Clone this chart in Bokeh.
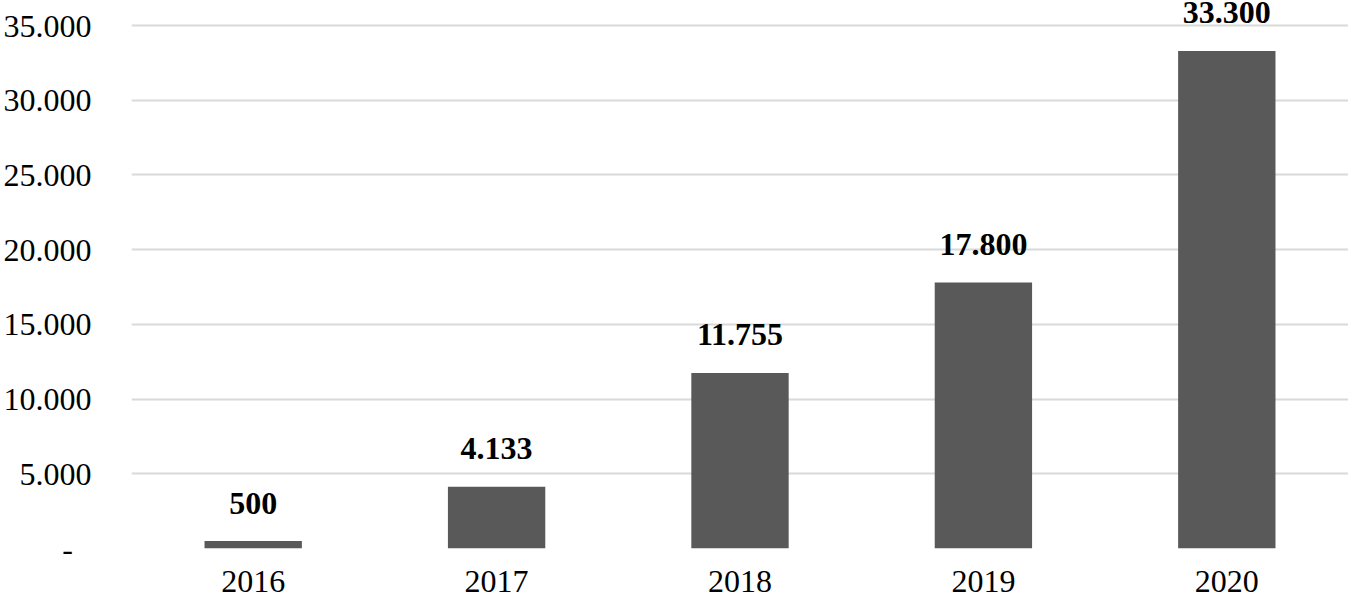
from bokeh.plotting import figure
from bokeh.models import ColumnDataSource, FactorRange, Range1d, FixedTicker
from bokeh.core.properties import value
from bokeh.embed import file_html
from bokeh.resources import INLINE

# data
years = ["2016", "2017", "2018", "2019", "2020"]
counts = [500, 4133, 11755, 17800, 33300]
y_ticks = [0, 5000, 10000, 15000, 20000, 25000, 30000, 35000]

FONT = "Liberation Serif"
BAR_COLOR = "#595959"
GRID_COLOR = "#d9d9d9"


def dotted(n):
    # thousands separated with a dot, e.g. 11.755
    return f"{n:,}".replace(",", ".")


src = ColumnDataSource(data=dict(
    year=years,
    count=counts,
    label=[dotted(c) for c in counts],
))

p = figure(
    x_range=FactorRange(*years, range_padding=0),
    y_range=Range1d(0, 36680),
    width=1348, height=599,
    output_backend="svg",
    toolbar_location=None,
    min_border_left=131, min_border_right=0,
    min_border_top=0, min_border_bottom=51,
)

p.vbar(x="year", top="count", width=0.4, source=src,
       fill_color=BAR_COLOR, line_color=None)

p.text(x="year", y="count", text="label", source=src,
       text_align="center", text_baseline="alphabetic", y_offset=-38,
       text_font=value(FONT), text_font_size="32px",
       text_font_style="bold", text_color="#000000")

# y axis: accounting style, zero shown as a dash
p.yaxis.ticker = FixedTicker(ticks=y_ticks)
p.yaxis.major_label_overrides = {
    t: (dotted(t) if t else "-\u2007\u200a") for t in y_ticks
}
p.yaxis.major_label_standoff = 34
p.xaxis.major_label_standoff = 16

for ax in (p.xaxis, p.yaxis):
    ax.axis_line_color = None
    ax.major_tick_line_color = None
    ax.minor_tick_line_color = None
    ax.major_label_text_font = FONT
    ax.major_label_text_font_size = "32px"
    ax.major_label_text_color = "#000000"

p.xgrid.grid_line_color = None
p.ygrid.grid_line_color = GRID_COLOR
p.ygrid.grid_line_width = 2
p.outline_line_color = None
p.background_fill_color = "white"
p.border_fill_color = "white"

open("out.html", "w").write(file_html(p, INLINE))
